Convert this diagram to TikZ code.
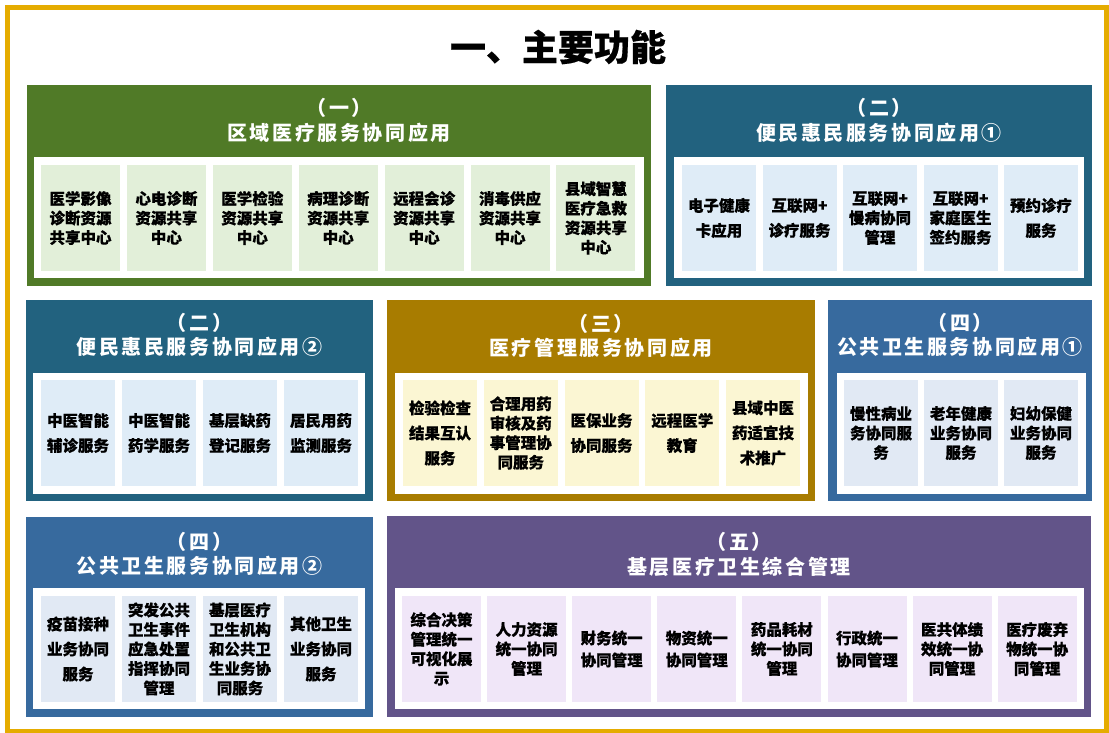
\documentclass[tikz,border=0pt]{standalone}
\usepackage{fontspec}
\newfontfamily\cjk{Noto Sans CJK SC}[BoldFeatures={FakeBold=0.5}]
\newfontfamily\cjkls{Noto Sans CJK SC}[LetterSpace=13]
\definecolor{cFrame}{HTML}{E5AC00}
\definecolor{cGreen}{HTML}{507A27}
\definecolor{lGreen}{HTML}{E2EFD9}
\definecolor{cTeal}{HTML}{22627F}
\definecolor{lTeal}{HTML}{DFECF7}
\definecolor{cGold}{HTML}{A87C00}
\definecolor{lGold}{HTML}{FBF6D3}
\definecolor{cBlue}{HTML}{376A9E}
\definecolor{lBlue}{HTML}{E1E9F4}
\definecolor{cPurple}{HTML}{625489}
\definecolor{lPurple}{HTML}{F0E6F8}
\tikzset{
  panel/.style={inner sep=0pt, outer sep=0pt, draw=none},
  whitebox/.style={inner sep=0pt, outer sep=0pt, fill=white, minimum height=121pt},
  head/.style={inner sep=0pt, text=white, align=center, font=\cjkls\bfseries\fontsize{20}{24.5}\selectfont},
  boxbase/.style={inner sep=0pt, outer sep=0pt, minimum height=106pt, align=center, text=black},
  boxT/.style={boxbase, font=\cjk\bfseries\fontsize{15.5}{19.5}\selectfont},
  boxM/.style={boxbase, font=\cjk\bfseries\fontsize{15.5}{22}\selectfont},
  boxL/.style={boxbase, font=\cjk\bfseries\fontsize{15.5}{25}\selectfont},
}
\begin{document}
\begin{tikzpicture}[x=1pt,y=-1pt]
\useasboundingbox (0,0) rectangle (1109,733);
\fill[white] (0,0) rectangle (1109,733);
\draw[cFrame, line width=4.5pt] (7.5,7.5) rectangle (1106.5,731.5);

\node[font=\cjk\bfseries\fontsize{36}{40}\selectfont, inner sep=0pt] (title) at (558,47) {一、主要功能};

% Panel 1
\node[panel, fill=cGreen, minimum width=624pt, minimum height=201pt] (P1) at (339,185.5) {};
\node[whitebox, minimum width=610pt] (P1w) at (339,217.5) {};
\node[head] (P1h) at (339,120.5) {（一）\\区域医疗服务协同应用};
\foreach \s/\t [count=\i from 0] in {
  boxT/{医学影像\\诊断资源\\共享中心},
  boxT/{心电诊断\\资源共享\\中心},
  boxT/{医学检验\\资源共享\\中心},
  boxT/{病理诊断\\资源共享\\中心},
  boxT/{远程会诊\\资源共享\\中心},
  boxT/{消毒供应\\资源共享\\中心},
  boxT/{县域智慧\\医疗急救\\资源共享\\中心}}
  \node[\s, fill=lGreen, minimum width=79pt] (P1b\i) at ({80.5+\i*85.9},218) {\t};

% Panel 2
\node[panel, fill=cTeal, minimum width=426pt, minimum height=201pt] (P2) at (879,185.5) {};
\node[whitebox, minimum width=410pt] (P2w) at (879,217.5) {};
\node[head] (P2h) at (879,120.5) {（二）\\便民惠民服务协同应用①};
\foreach \s/\t [count=\i from 0] in {
  boxL/{电子健康\\卡应用},
  boxL/{互联网+\\诊疗服务},
  boxT/{互联网+\\慢病协同\\管理},
  boxT/{互联网+\\家庭医生\\签约服务},
  boxL/{预约诊疗\\服务}}
  \node[\s, fill=lTeal, minimum width=74pt] (P2b\i) at ({719+\i*80.5},218) {\t};

% Panel 3
\node[panel, fill=cTeal, minimum width=347pt, minimum height=201pt] (P3) at (199.5,400.5) {};
\node[whitebox, minimum width=332pt] (P3w) at (199,433.5) {};
\node[head] (P3h) at (199.5,335) {（二）\\便民惠民服务协同应用②};
\foreach \s/\t [count=\i from 0] in {
  boxL/{中医智能\\辅诊服务},
  boxL/{中医智能\\药学服务},
  boxL/{基层缺药\\登记服务},
  boxL/{居民用药\\监测服务}}
  \node[\s, fill=lTeal, minimum width=74pt] (P3b\i) at ({78+\i*81},433) {\t};

% Panel 4
\node[panel, fill=cGold, minimum width=428pt, minimum height=201pt] (P4) at (601,400.5) {};
\node[whitebox, minimum width=413pt] (P4w) at (601.5,433.5) {};
\node[head] (P4h) at (601,336) {（三）\\医疗管理服务协同应用};
\foreach \s/\t [count=\i from 0] in {
  boxL/{检验检查\\结果互认\\服务},
  boxT/{合理用药\\审核及药\\事管理协\\同服务},
  boxL/{医保业务\\协同服务},
  boxL/{远程医学\\教育},
  boxL/{县域中医\\药适宜技\\术推广}}
  \node[\s, fill=lGold, minimum width=74pt] (P4b\i) at ({440+\i*80.75},433) {\t};

% Panel 5
\node[panel, fill=cBlue, minimum width=264pt, minimum height=201pt] (P5) at (960,400.5) {};
\node[whitebox, minimum width=249pt] (P5w) at (961.5,433.5) {};
\node[head] (P5h) at (960,335) {（四）\\公共卫生服务协同应用①};
\foreach \s/\t [count=\i from 0] in {
  boxT/{慢性病业\\务协同服\\务},
  boxT/{老年健康\\业务协同\\服务},
  boxT/{妇幼保健\\业务协同\\服务}}
  \node[\s, fill=lBlue, minimum width=74pt] (P5b\i) at ({881+\i*80},433) {\t};

% Panel 6
\node[panel, fill=cBlue, minimum width=347pt, minimum height=200pt] (P6) at (199.5,617) {};
\node[whitebox, minimum width=332pt] (P6w) at (199,648.5) {};
\node[head] (P6h) at (199.5,554) {（四）\\公共卫生服务协同应用②};
\foreach \s/\t [count=\i from 0] in {
  boxL/{疫苗接种\\业务协同\\服务},
  boxT/{突发公共\\卫生事件\\应急处置\\指挥协同\\管理},
  boxT/{基层医疗\\卫生机构\\和公共卫\\生业务协\\同服务},
  boxL/{其他卫生\\业务协同\\服务}}
  \node[\s, fill=lBlue, minimum width=74pt] (P6b\i) at ({78+\i*81},649) {\t};

% Panel 7
\node[panel, fill=cPurple, minimum width=704pt, minimum height=201pt] (P7) at (739,616.5) {};
\node[whitebox, minimum width=689pt] (P7w) at (739.5,648.5) {};
\node[head] (P7h) at (739,554.5) {（五）\\基层医疗卫生综合管理};
\foreach \s/\t [count=\i from 0] in {
  boxT/{综合决策\\管理统一\\可视化展\\示},
  boxT/{人力资源\\统一协同\\管理},
  boxM/{财务统一\\协同管理},
  boxM/{物资统一\\协同管理},
  boxT/{药品耗材\\统一协同\\管理},
  boxM/{行政统一\\协同管理},
  boxT/{医共体绩\\效统一协\\同管理},
  boxT/{医疗废弃\\物统一协\\同管理}}
  \node[\s, fill=lPurple, minimum width=79pt] (P7b\i) at ({441.5+\i*85.1},649) {\t};
\end{tikzpicture}
\end{document}
